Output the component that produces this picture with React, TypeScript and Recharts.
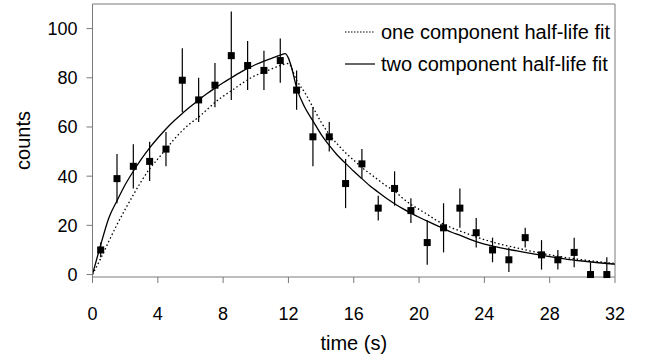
import { ComposedChart, Line, Scatter, ErrorBar, XAxis, YAxis, ReferenceLine, Legend } from 'recharts';

// measured counts per 1 s bin, with error bars (lower, upper)
const measTime = [0.5, 1.5, 2.5, 3.5, 4.5, 5.5, 6.5, 7.5, 8.5, 9.5, 10.5, 11.5, 12.5, 13.5, 14.5, 15.5, 16.5, 17.5, 18.5, 19.5, 20.5, 21.5, 22.5, 23.5, 24.5, 25.5, 26.5, 27.5, 28.5, 29.5, 30.5, 31.5];
const measCounts = [10, 39, 44, 46, 51, 79, 71, 77, 89, 85, 83, 87, 75, 56, 56, 37, 45, 27, 35, 26, 13, 19, 27, 17, 10, 6, 15, 8, 6, 9, 0, 0];
const errLow = [3, 10, 9, 8, 7, 13, 9, 9, 18, 10, 8, 9, 8, 12, 6, 10, 6, 5, 7, 5, 9, 10, 8, 6, 5, 5, 4, 6, 4, 6, 1, 1];
const errHigh = [3, 10, 9, 8, 7, 13, 9, 9, 18, 10, 8, 9, 8, 12, 6, 10, 6, 5, 7, 5, 9, 10, 8, 6, 5, 5, 4, 6, 4, 6, 5, 7];

// one component half-life fit (dotted)
const oneFitTime = [0, 0.5, 1, 1.5, 2, 2.5, 3, 3.5, 4, 4.5, 5, 5.5, 6, 6.5, 7, 7.5, 8, 8.5, 9, 9.5, 10, 10.5, 11, 11.5, 12, 12.5, 13, 13.5, 14, 14.5, 15, 15.5, 16, 16.5, 17, 17.5, 18, 18.5, 19, 19.5, 20, 20.5, 21, 21.5, 22, 22.5, 23, 24, 25, 26, 27, 28, 29, 30, 31, 32];
const oneFitCounts = [0, 6.5, 13.5, 20.3, 26.5, 32.4, 38, 43, 47, 51, 55, 58.5, 61.5, 64, 67, 70, 72.5, 74.7, 77, 79.2, 81, 82.3, 83.7, 85, 85.8, 79, 74, 68, 62, 57, 53, 49.5, 46.5, 43.5, 41, 38.5, 36, 34, 31, 28.5, 26.5, 24.5, 22.3, 20.5, 19, 17.7, 16.5, 14.2, 12.3, 10.8, 9.3, 8, 6.9, 6, 5.2, 4.5];

// two component half-life fit (solid)
const twoFitTime = [0, 0.5, 1, 1.5, 2, 2.5, 3, 3.5, 4, 4.5, 5, 5.5, 6, 6.5, 7, 7.5, 8, 8.5, 9, 9.5, 10, 10.5, 11, 11.5, 11.8, 12, 12.2, 12.5, 13, 13.5, 14, 14.5, 15, 15.5, 16, 16.5, 17, 17.5, 18, 18.5, 19, 19.5, 20, 20.5, 21, 21.5, 22, 22.5, 23, 23.5, 24, 24.5, 25, 26, 27, 28, 29, 30, 31, 32];
const twoFitCounts = [0, 12, 23, 30, 36.5, 42, 47, 51.5, 55.5, 59.2, 62.5, 65.5, 68.3, 71, 73.5, 75.8, 78, 80, 82, 83.8, 85.4, 86.8, 88, 89.2, 89.8, 88, 84, 76, 68, 62.5, 57, 52.5, 48.5, 45.2, 42, 39, 36, 33.5, 31, 28.8, 26.8, 25, 23.3, 21.7, 20.2, 18.7, 17.2, 16, 14.6, 13.4, 12.4, 11.6, 10.8, 9.6, 8.4, 7.3, 6.3, 5.5, 4.8, 4.2];

const xTicks = [0, 4, 8, 12, 16, 20, 24, 28, 32];
const yTicks = [0, 20, 40, 60, 80, 100];
const legendLabels = ['one component half-life fit', 'two component half-life fit'];

const points = measTime.map((t, i) => ({ t, counts: measCounts[i], err: [errLow[i], errHigh[i]] }));
const oneFit = oneFitTime.map((t, i) => ({ t, counts: oneFitCounts[i] }));
const twoFit = twoFitTime.map((t, i) => ({ t, counts: twoFitCounts[i] }));

const font = '"Liberation Sans", Arial, Helvetica, sans-serif';
const axisGray = '#7a7a7a';

const Square = (props: any) => (
  <rect x={props.cx - 3.5} y={props.cy - 3.5} width={7} height={7} fill="#000" />
);

const renderLegend = () => (
  <div style={{ fontFamily: font, fontSize: 20, color: '#000', lineHeight: '32px' }}>
    {legendLabels.map((label, i) => (
      <div key={label} style={{ display: 'flex', alignItems: 'center', whiteSpace: 'nowrap' }}>
        <svg width={30} height={10} style={{ marginRight: 6 }}>
          <line x1={0} y1={5} x2={30} y2={5} stroke="#000" strokeWidth={1.2}
            strokeDasharray={i === 0 ? '1.5 1.5' : undefined} />
        </svg>
        {label}
      </div>
    ))}
  </div>
);

export default function App() {
  return (
    <div style={{ position: 'absolute', left: 0, top: 0, width: 651, height: 358, background: '#fff' }}>
      <ComposedChart width={651} height={358} margin={{ top: 4, right: 36, bottom: 0, left: 8 }}>
        <XAxis
          dataKey="t"
          type="number"
          domain={[0, 32]}
          ticks={xTicks}
          stroke={axisGray}
          tickSize={6}
          tickMargin={24}
          height={81}
          tick={{ fill: '#000', fontSize: 18, fontFamily: font }}
          label={{ value: 'time (s)', position: 'insideBottom', offset: 8, fill: '#000', fontSize: 20, fontFamily: font }}
        />
        <YAxis
          dataKey="counts"
          type="number"
          domain={[0, 110]}
          ticks={yTicks}
          stroke={axisGray}
          tickSize={6}
          tickMargin={9}
          width={84.5}
          tick={{ fill: '#000', fontSize: 18, fontFamily: font }}
          label={{ value: 'counts', angle: -90, position: 'insideLeft', offset: 15, fill: '#000', fontSize: 20, fontFamily: font, style: { textAnchor: 'middle' } }}
        />
        <ReferenceLine y={110} stroke={axisGray} />
        <ReferenceLine x={32} stroke={axisGray} />
        <Line data={oneFit} dataKey="counts" type="monotone" stroke="#000" strokeWidth={1.3}
          strokeDasharray="1.5 2.5" dot={false} isAnimationActive={false} />
        <Line data={twoFit} dataKey="counts" type="monotone" stroke="#000" strokeWidth={1.3}
          dot={false} isAnimationActive={false} />
        <Scatter data={points} dataKey="counts" shape={Square} isAnimationActive={false}>
          <ErrorBar dataKey="err" direction="y" width={0} stroke="#000" strokeWidth={1.2} />
        </Scatter>
        <Legend
          layout="vertical"
          align="center"
          verticalAlign="middle"
          content={renderLegend}
          wrapperStyle={{ left: 345, top: 16, width: 'auto', height: 'auto' }}
        />
      </ComposedChart>
    </div>
  );
}
